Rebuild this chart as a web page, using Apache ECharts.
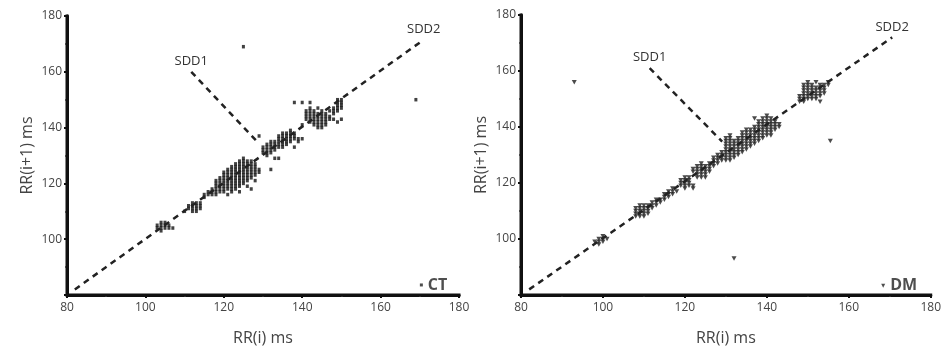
<!DOCTYPE html>
<html><head><meta charset="utf-8">
<script src="https://cdn.jsdelivr.net/npm/echarts@6/dist/echarts.min.js"></script>
<style>html,body{margin:0;padding:0;background:#fff;}#c{width:944px;height:353px;}</style>
</head><body><div id="c"></div>
<script>
// Axis ticks
const xTicks = [80, 100, 120, 140, 160, 180];
const yTicks = [80, 100, 120, 140, 160, 180];
const panelNames = ['CT', 'DM'];

// CT panel: columns [RR(i), [RR(i+1) values]]
const ctCluster1 = [[103,[104,105]],[104,[103,104,105,106]],[105,[104,105,106]],[106,[104,105]],[107,[104]]];
const ctCluster2 = [[110,[110]],[111,[111,112]],[112,[110,111,112,113]],[113,[110,111,112,113]],[114,[111,112,113]]];
const ctCluster3 = [[115,[115,116]],[116,[116,117]],[117,[116,117,118]],[118,[116,117,118,119,120,121]],
  [119,[117,118,119,120,121,122]],[120,[117,118,119,120,121,122,123,124]],[121,[116,118,119,120,121,122,123,124,125]],
  [122,[117,118,119,120,121,122,123,124,125,126]],[123,[118,119,120,121,122,123,124,125,126,127]],
  [124,[117,119,120,121,122,123,124,125,126,127,128]],[125,[120,121,122,123,124,125,126,127,128,129]],
  [126,[119,121,122,123,124,125,126,127,128]],[127,[118,122,123,124,125,126,127,128]],[128,[121,123,124,125,126,127]],[129,[124,125]]];
const ctCluster4 = [[129,[137]],[130,[131,132,133]],[131,[130,131,132,133,134]],[132,[125,131,132,133,134,135]],[133,[129,132,133,134,135]],
  [134,[129,133,134,135,136,137]],[135,[133,134,135,136,137,138]],[136,[134,135,136,137,138]],[137,[135,136,137,138,139]],
  [138,[133,136,137,138]],[139,[135,136]],[140,[136]]];
const ctCluster5 = [[138,[149]],[140,[141,149]],[141,[143,144,145,146]],[142,[142,143,144,145,146,147,149]],[143,[141,142,143,144,145,146]],
  [144,[140,141,142,143,144,145,147]],[145,[140,141,142,143,144,145,146]],[146,[141,142,143,144,145]],[147,[143,144,146]],
  [148,[143,145,146,147]],[149,[142,146,147,148,149,150]],[150,[143,147,148,149,150]]];
const ctOutliers = [[125,[169]],[169,[150]]];

// DM panel
const dmCluster1 = [[98,[99]],[99,[98,99,100]],[100,[99,100,101]],[101,[100]]];
const dmCluster2 = [[108,[108,109,110,111]],[109,[108,109,110,111,112]],[110,[108,109,110,111,112]],[111,[109,110,111,112]]];
const dmCluster3 = [[112,[111,112,113]],[113,[112,113,114]],[114,[113,114]],[115,[114,115,116]],[116,[115,116,117]],[117,[116,117,118]],[118,[117]]];
const dmCluster4 = [[119,[119,120,121]],[120,[118,119,120,121,122]],[121,[119,120,121,122]],[122,[118,119]]];
const dmCluster5 = [[122,[124,125]],[123,[122,123,124,125,126]],[124,[122,123,124,125,126,127]],[125,[122,123,124,125,126]],[126,[124,125,126,127]]];
const dmCluster6 = [[127,[126,127,128,129]],[128,[127,128,129,130]],[129,[128,129,130,131]]];
const dmCluster7 = [[130,[128,129,130,131,132,133,134,135,136]],[131,[128,129,130,131,132,133,134,135,136,137]],
  [132,[129,130,131,132,133,134,135]],[133,[130,131,132,133,134,135,136]],[134,[131,132,133,134,135,136,137,138]],
  [135,[132,133,134,135,136,137,138,139]],[136,[133,134,135,136,137,138,139]]];
const dmCluster8 = [[137,[134,135,136,137,138,139,140,143]],[138,[135,136,137,138,139,140,141,142]],[139,[136,137,138,139,140,141,142,143]],
  [140,[137,138,139,140,141,142,143,144]],[141,[137,138,139,140,141,142,143]],[142,[139,140,141,142]],[143,[140,141]]];
const dmCluster9 = [[148,[149,150,151]],[149,[149,150,151,152,153,154,155]],[150,[150,151,152,153,154,155,156]],
  [151,[150,151,152,153,154,155]],[152,[150,151,152,153,154,156]],[153,[149,151,152,153,154,155]],[154,[152,153,154,155]],[155,[155,156]]];
const dmOutliers = [[93,[156]],[132,[93]],[155.5,[135]]];

// SDD axes (data coords)
const ctSdd2 = [[82, 82], [171, 171.5]];
const ctSdd1 = [[111.7, 160], [128.9, 134.4]];
const dmSdd2 = [[82, 82], [170.6, 172]];
const dmSdd1 = [[111.4, 161], [129.1, 134.8]];
const ctTag = [[170.4, 83.6]];
const dmTag = [[168.4, 83.3]];

function expand(cols) {
  const out = [];
  cols.forEach(c => c[1].forEach(y => out.push([c[0], y])));
  return out;
}
const ctPoints = [].concat(expand(ctCluster1), expand(ctCluster2), expand(ctCluster3), expand(ctCluster4), expand(ctCluster5), expand(ctOutliers));
const dmPoints = [].concat(expand(dmCluster1), expand(dmCluster2), expand(dmCluster3), expand(dmCluster4), expand(dmCluster5),
  expand(dmCluster6), expand(dmCluster7), expand(dmCluster8), expand(dmCluster9), expand(dmOutliers));

// L-shaped axis frame in data units (from the tick ranges)
const xMin = xTicks[0], xMax = xTicks[xTicks.length - 1];
const yMin = yTicks[0], yMax = yTicks[yTicks.length - 1];
const axisFrame = [[xMin, yMax], [xMin, yMin], [xMax, yMin]];

const FONT = 'Open Sans';
const axisColor = '#111';
function xAxis(gi) {
  return {
    gridIndex: gi, type: 'value', min: xMin, max: xMax, interval: 20,
    name: 'RR(i) ms', nameLocation: 'middle', nameGap: 35,
    nameTextStyle: { fontFamily: FONT, fontSize: 16, color: '#444' },
    axisLine: { show: true, onZero: false, lineStyle: { color: axisColor, width: 3 } },
    axisTick: { show: true, length: 3, lineStyle: { color: axisColor, width: 2 } },
    minorTick: { show: true, splitNumber: 2, length: 2, lineStyle: { color: '#555', width: 1.5 } },
    axisLabel: { fontFamily: FONT, fontSize: 12, color: '#444', margin: 7 },
    splitLine: { show: false }
  };
}
function yAxis(gi) {
  return {
    gridIndex: gi, type: 'value', min: yMin, max: yMax, interval: 20,
    name: 'RR(i+1) ms', nameLocation: 'middle', nameGap: 32,
    nameTextStyle: { fontFamily: FONT, fontSize: 16, color: '#444' },
    axisLine: { show: true, onZero: false, lineStyle: { color: axisColor, width: 3 } },
    axisTick: { show: true, length: 3, lineStyle: { color: axisColor, width: 2 } },
    minorTick: { show: true, splitNumber: 2, length: 2, lineStyle: { color: '#555', width: 1.5 } },
    axisLabel: { fontFamily: FONT, fontSize: 12, color: '#444', margin: 5,
      formatter: v => (v === yMin ? '' : String(v)) },
    splitLine: { show: false }
  };
}
function frame(gi) {
  return {
    type: 'line', xAxisIndex: gi, yAxisIndex: gi, data: axisFrame, symbol: 'none', clip: false, silent: true,
    lineStyle: { color: axisColor, width: 3, cap: 'square', join: 'miter' }
  };
}
function dashLine(gi, data, text, labelIdx) {
  return {
    type: 'line', xAxisIndex: gi, yAxisIndex: gi,
    data: data.map((d, i) => ({
      value: d,
      label: { show: i === labelIdx, position: 'top', formatter: text, fontFamily: FONT, fontSize: 13, color: '#333', distance: 4 }
    })),
    symbol: 'circle', symbolSize: 0.1,
    itemStyle: { color: '#222' },
    lineStyle: { color: '#222', width: 2.5, type: [6, 5] }
  };
}
function tag(gi, data, sym, size, rot, text) {
  return {
    type: 'scatter', xAxisIndex: gi, yAxisIndex: gi, data: data, symbol: sym, symbolSize: size, symbolRotate: rot,
    itemStyle: { color: '#222' },
    label: { show: true, position: 'right', distance: 5, formatter: text, fontFamily: FONT, fontWeight: 'bold', fontSize: 16, color: '#222' }
  };
}

const chart = echarts.init(document.getElementById('c'));
chart.setOption({
  animation: false,
  grid: [
    { left: 67, top: 16, width: 392, height: 279 },
    { left: 521, top: 15, width: 410, height: 280 }
  ],
  xAxis: [xAxis(0), xAxis(1)],
  yAxis: [yAxis(0), yAxis(1)],
  series: [
    frame(0),
    frame(1),
    dashLine(0, ctSdd2, 'SDD2', 1),
    dashLine(0, ctSdd1, 'SDD1', 0),
    dashLine(1, dmSdd2, 'SDD2', 1),
    dashLine(1, dmSdd1, 'SDD1', 0),
    { type: 'scatter', xAxisIndex: 0, yAxisIndex: 0, data: ctPoints, symbol: 'rect', symbolSize: [3, 3.5], itemStyle: { color: '#111' } },
    { type: 'scatter', xAxisIndex: 1, yAxisIndex: 1, data: dmPoints, symbol: 'triangle', symbolRotate: 180, symbolSize: [5, 4.5], itemStyle: { color: '#1e1e1e' } },
    tag(0, ctTag, 'rect', [3, 3], 0, panelNames[0]),
    tag(1, dmTag, 'triangle', [4, 4], 180, panelNames[1])
  ]
});
</script>
</body></html>
